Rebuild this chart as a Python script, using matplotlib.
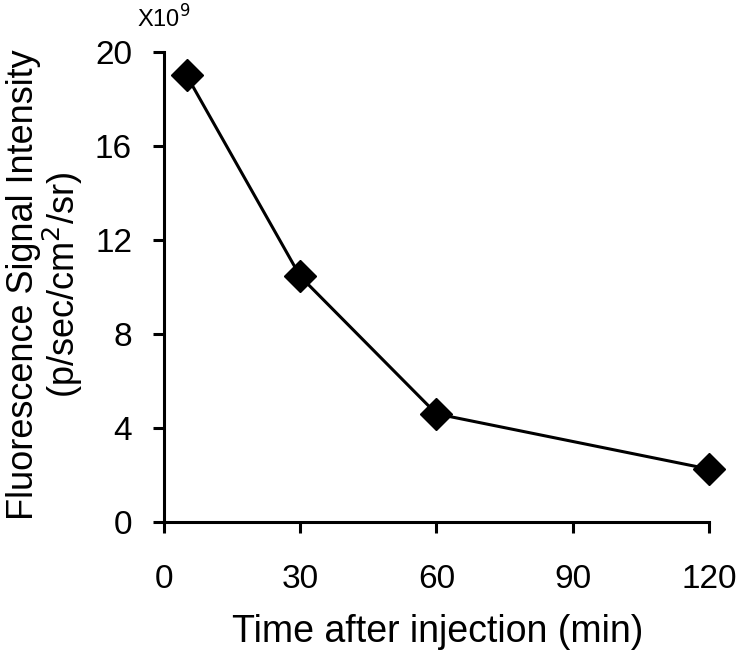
import numpy as np
import matplotlib.pyplot as plt

plt.rcParams['font.family'] = ['Liberation Sans', 'DejaVu Sans']

# data (signal in units of 1e9)
time_min = [5, 30, 60, 120]
signal = [19.0, 10.45, 4.6, 2.25]
xticks = [0, 30, 60, 90, 120]
yticks = [0, 4, 8, 12, 16, 20]

fig = plt.figure(figsize=(7.4, 6.5), dpi=100)
ax = fig.add_axes([0.2216, 0.197, 0.7365, 0.723])

ax.plot(time_min, signal, color='black', lw=2.2, marker='D', ms=16,
        clip_on=False, zorder=3)

ax.set_xlim(0, 120)
ax.set_ylim(0, 20)
ax.set_xticks(xticks)
ax.set_yticks(yticks)
ax.spines['top'].set_visible(False)
ax.spines['right'].set_visible(False)
for s in ['left', 'bottom']:
    ax.spines[s].set_linewidth(2.2)
ax.tick_params(direction='out', length=8, width=2.2, labelsize=24)
ax.tick_params(axis='y', pad=15)
ax.tick_params(axis='x', pad=22)

fig.text(0.591, 0.012, 'Time after injection (min)', fontsize=27,
         ha='center', va='baseline')
fig.text(0.062, 0.562, 'Fluorescence Signal Intensity\n(p/sec/cm$^2$/sr)',
         fontsize=26, rotation=90, ha='center', va='center',
         multialignment='center', linespacing=1.0)
fig.text(0.185, 0.957, 'X10$^9$', fontsize=17, ha='left', va='baseline')

fig.savefig('out.png', dpi=100)
